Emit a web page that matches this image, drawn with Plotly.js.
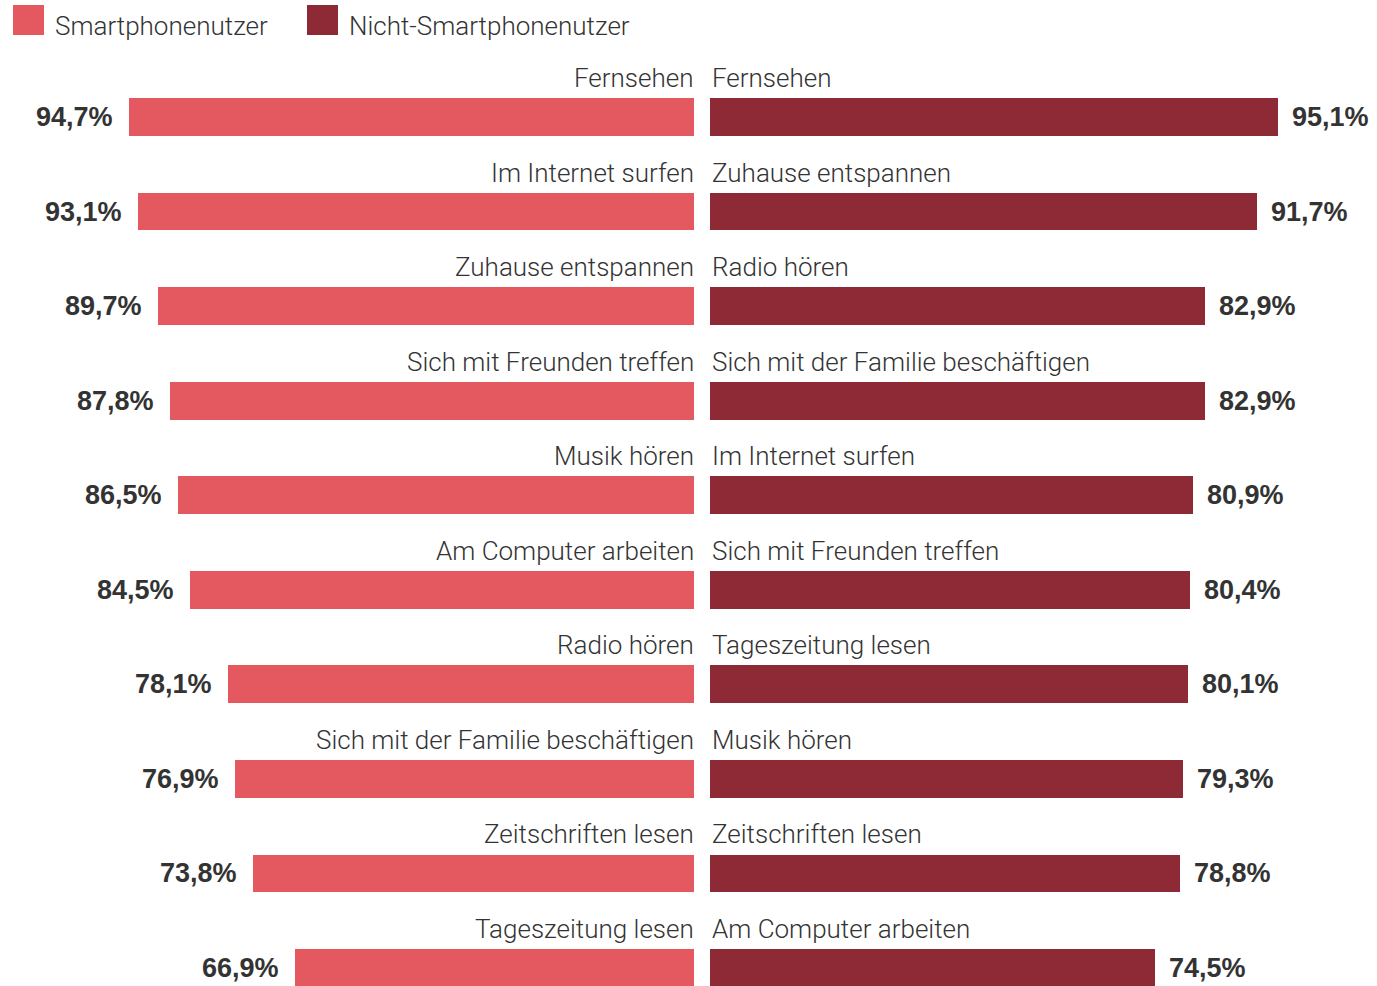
<!DOCTYPE html>
<html>
<head>
<meta charset="utf-8">
<script src="https://cdn.plot.ly/plotly-3.0.1.min.js"></script>
<style>html,body{margin:0;padding:0;background:#fff;}#chart{width:1377px;height:986px;}</style>
</head>
<body>
<div id="chart"></div>
<script>
// Data
var seriesNames = ["Smartphonenutzer", "Nicht-Smartphonenutzer"];
var leftCats = ["Fernsehen","Im Internet surfen","Zuhause entspannen","Sich mit Freunden treffen","Musik hören","Am Computer arbeiten","Radio hören","Sich mit der Familie beschäftigen","Zeitschriften lesen","Tageszeitung lesen"];
var leftVals = [94.7, 93.1, 89.7, 87.8, 86.5, 84.5, 78.1, 76.9, 73.8, 66.9];
var rightCats = ["Fernsehen","Zuhause entspannen","Radio hören","Sich mit der Familie beschäftigen","Im Internet surfen","Sich mit Freunden treffen","Tageszeitung lesen","Musik hören","Zeitschriften lesen","Am Computer arbeiten"];
var rightVals = [95.1, 91.7, 82.9, 82.9, 80.9, 80.4, 80.1, 79.3, 78.8, 74.5];

var colorLeft = "#E45860";
var colorRight = "#8E2A36";
var textColor = "#333333";
var labelFont = {family: "Roboto, 'Liberation Sans', sans-serif", size: 26, color: textColor, weight: 300};
var valueFont = {family: "'Liberation Sans', Arial, sans-serif", size: 27, color: textColor, weight: 700};

var rows = leftVals.map(function(_, i){ return i; });
function fmt(v){ return v.toFixed(1).replace('.', ',') + '%'; }

var W = 1377, H = 986;
var pxPerPct = 5.97;
var leftEnd = 694, rightStart = 710;
var rowTop = 117, pitch = 94.56;

var traces = [
  {type: 'bar', orientation: 'h', name: seriesNames[0], x: leftVals, y: rows, xaxis: 'x', yaxis: 'y',
   marker: {color: colorLeft}, width: 0.40, hoverinfo: 'x'},
  {type: 'bar', orientation: 'h', name: seriesNames[1], x: rightVals, y: rows, xaxis: 'x2', yaxis: 'y',
   marker: {color: colorRight}, width: 0.40, hoverinfo: 'x'}
];

var annotations = [];
rows.forEach(function(i){
  annotations.push({xref: 'x', yref: 'y', x: 0, y: i, text: leftCats[i], showarrow: false,
    xanchor: 'right', yanchor: 'middle', xshift: 2, yshift: 39, font: labelFont});
  annotations.push({xref: 'x2', yref: 'y', x: 0, y: i, text: rightCats[i], showarrow: false,
    xanchor: 'left', yanchor: 'middle', xshift: 0, yshift: 39, font: labelFont});
  annotations.push({xref: 'x', yref: 'y', x: leftVals[i], y: i, text: fmt(leftVals[i]), showarrow: false,
    xanchor: 'right', yanchor: 'middle', xshift: -14, font: valueFont});
  annotations.push({xref: 'x2', yref: 'y', x: rightVals[i], y: i, text: fmt(rightVals[i]), showarrow: false,
    xanchor: 'left', yanchor: 'middle', xshift: 12, font: valueFont});
});

// Legend (drawn as shapes + text)
var legendItems = [
  {x0: 13, x1: 44, tx: 53, color: colorLeft, name: seriesNames[0]},
  {x0: 307, x1: 338, tx: 347, color: colorRight, name: seriesNames[1]}
];
var shapes = [];
legendItems.forEach(function(it){
  shapes.push({type: 'rect', xref: 'paper', yref: 'paper', x0: it.x0 / W, x1: it.x1 / W,
    y0: 1 - 35 / H, y1: 1 - 5 / H, fillcolor: it.color, line: {width: 0}});
  annotations.push({xref: 'paper', yref: 'paper', x: it.tx / W, y: 1 - 26 / H, text: it.name, showarrow: false,
    xanchor: 'left', yanchor: 'middle', font: labelFont});
});

var layout = {
  width: W, height: H,
  margin: {l: 0, r: 0, t: 0, b: 0, pad: 0},
  paper_bgcolor: '#ffffff', plot_bgcolor: '#ffffff',
  showlegend: false,
  separators: ',.',
  bargap: 0,
  xaxis: {domain: [0, leftEnd / W], range: [leftEnd / pxPerPct, 0], visible: false, fixedrange: true},
  xaxis2: {domain: [rightStart / W, 1], range: [0, (W - rightStart) / pxPerPct], visible: false, fixedrange: true},
  yaxis: {range: [(H - rowTop) / pitch, -rowTop / pitch], visible: false, fixedrange: true},
  annotations: annotations,
  shapes: shapes
};

Plotly.newPlot('chart', traces, layout, {displayModeBar: false, staticPlot: true});
</script>
</body>
</html>
